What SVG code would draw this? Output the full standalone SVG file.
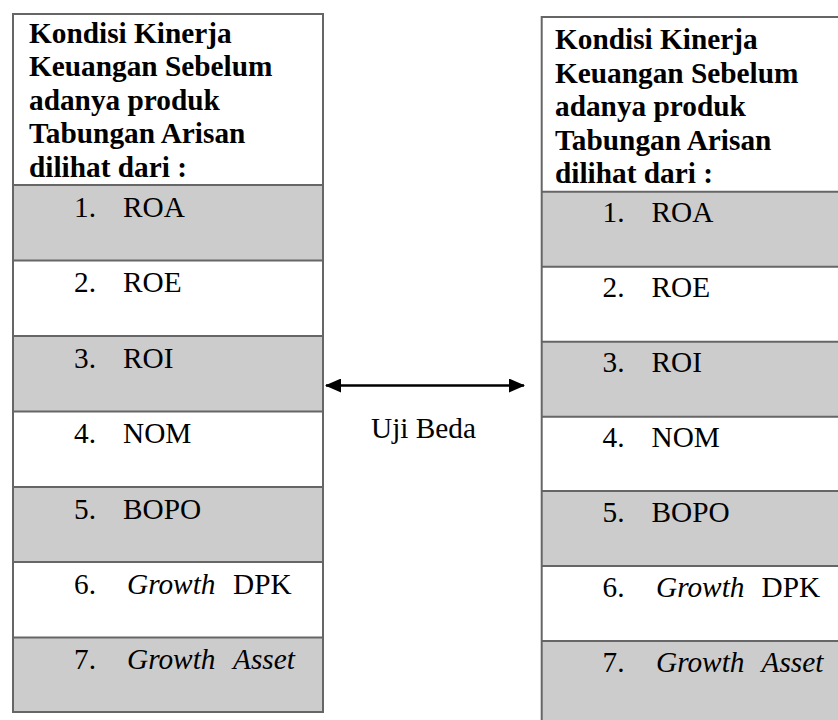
<svg xmlns="http://www.w3.org/2000/svg" width="838" height="720" viewBox="0 0 838 720">
<defs>
<style>
.hdr{font-family:"Liberation Serif","Times New Roman",serif;font-size:29.3px;font-weight:bold;fill:#000}
.itm{font-family:"Liberation Serif","Times New Roman",serif;font-size:29.3px;fill:#000}
.it{font-style:italic}
.gray{fill:#cccccc}
.white{fill:#ffffff}
.div{stroke:#666;stroke-width:2;fill:none}
.conn{stroke:#000;stroke-width:2.5;fill:none}
</style>
<marker id="ah" viewBox="0 0 16 14" refX="15" refY="7" markerWidth="16" markerHeight="14" markerUnits="userSpaceOnUse" orient="auto-start-reverse">
<path d="M0,0 L16,7 L0,14 Z" fill="#000"/>
</marker>
</defs>
<rect x="0" y="0" width="838" height="720" fill="#fff"/>

<g id="left-box">
<rect class="white" x="13" y="14" width="310" height="171"/>
<rect class="gray" x="13" y="185" width="310" height="75.5"/>
<rect class="white" x="13" y="260.5" width="310" height="75.5"/>
<rect class="gray" x="13" y="336" width="310" height="75.5"/>
<rect class="white" x="13" y="411.5" width="310" height="75.5"/>
<rect class="gray" x="13" y="487" width="310" height="75"/>
<rect class="white" x="13" y="562" width="310" height="75.5"/>
<rect class="gray" x="13" y="637.5" width="310" height="74.5"/>
<path class="div" d="M13,185H323M13,260.5H323M13,336H323M13,411.5H323M13,487H323M13,562H323M13,637.5H323"/>
<rect class="div" x="13" y="14" width="310" height="698"/>
<text class="hdr" x="29" y="42.7">Kondisi Kinerja</text>
<text class="hdr" x="29" y="76.2">Keuangan Sebelum</text>
<text class="hdr" x="29" y="109.7">adanya produk</text>
<text class="hdr" x="29" y="143.2">Tabungan Arisan</text>
<text class="hdr" x="29" y="176.7">dilihat dari :</text>
<text class="itm" x="74" y="216.5">1.</text><text class="itm" x="123" y="216.5">ROA</text>
<text class="itm" x="74" y="292">2.</text><text class="itm" x="123" y="292">ROE</text>
<text class="itm" x="74" y="367.5">3.</text><text class="itm" x="123" y="367.5">ROI</text>
<text class="itm" x="74" y="443">4.</text><text class="itm" x="123" y="443">NOM</text>
<text class="itm" x="74" y="518.5">5.</text><text class="itm" x="123" y="518.5">BOPO</text>
<text class="itm" x="74" y="593.5">6.</text><text class="itm" x="127" y="593.5"><tspan class="it">Growth</tspan><tspan x="233">DPK</tspan></text>
<text class="itm" x="74" y="669">7.</text><text class="itm it" x="127" y="669">Growth<tspan x="233">Asset</tspan></text>
</g>

<g id="right-box">
<rect class="white" x="541.7" y="17" width="310" height="174.7"/>
<rect class="gray" x="541.7" y="191.7" width="310" height="75"/>
<rect class="white" x="541.7" y="266.7" width="310" height="75"/>
<rect class="gray" x="541.7" y="341.7" width="310" height="75"/>
<rect class="white" x="541.7" y="416.7" width="310" height="74.3"/>
<rect class="gray" x="541.7" y="491" width="310" height="75"/>
<rect class="white" x="541.7" y="566" width="310" height="75"/>
<rect class="gray" x="541.7" y="641" width="310" height="90"/>
<path class="div" d="M541.7,191.7H852M541.7,266.7H852M541.7,341.7H852M541.7,416.7H852M541.7,491H852M541.7,566H852M541.7,641H852"/>
<rect class="div" x="541.7" y="17" width="310" height="720"/>
<text class="hdr" x="555" y="49">Kondisi Kinerja</text>
<text class="hdr" x="555" y="82.6">Keuangan Sebelum</text>
<text class="hdr" x="555" y="116.2">adanya produk</text>
<text class="hdr" x="555" y="149.8">Tabungan Arisan</text>
<text class="hdr" x="555" y="183.4">dilihat dari :</text>
<text class="itm" x="602.5" y="222">1.</text><text class="itm" x="651.5" y="222">ROA</text>
<text class="itm" x="602.5" y="297">2.</text><text class="itm" x="651.5" y="297">ROE</text>
<text class="itm" x="602.5" y="372">3.</text><text class="itm" x="651.5" y="372">ROI</text>
<text class="itm" x="602.5" y="447">4.</text><text class="itm" x="651.5" y="447">NOM</text>
<text class="itm" x="602.5" y="522">5.</text><text class="itm" x="651.5" y="522">BOPO</text>
<text class="itm" x="602.5" y="597">6.</text><text class="itm" x="656" y="597"><tspan class="it">Growth</tspan><tspan x="761.5">DPK</tspan></text>
<text class="itm" x="602.5" y="672">7.</text><text class="itm it" x="656" y="672">Growth<tspan x="761.5">Asset</tspan></text>
</g>

<g id="connectors">
<line class="conn" x1="326" y1="385.5" x2="524" y2="385.5" marker-start="url(#ah)" marker-end="url(#ah)"/>
<text class="itm" x="423.5" y="438" text-anchor="middle">Uji Beda</text>
</g>
</svg>
